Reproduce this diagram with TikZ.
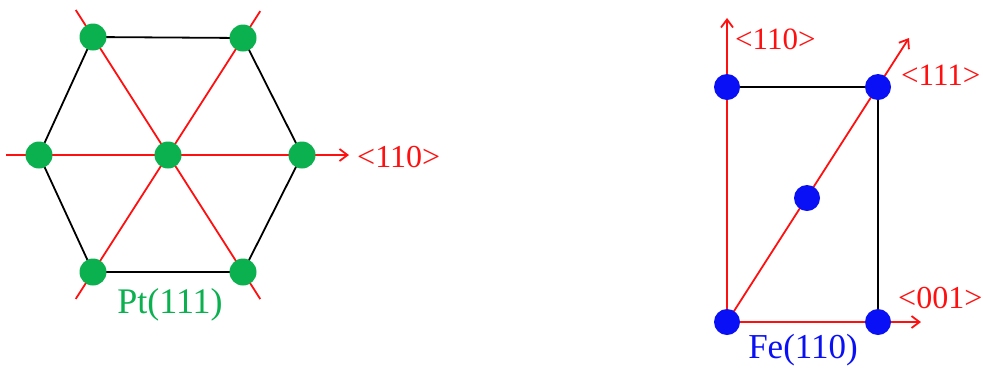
\documentclass[tikz,border=0pt]{standalone}
\usepackage{fontspec}
\setmainfont{Liberation Serif}
\usetikzlibrary{arrows.meta,calc}
\definecolor{ptgreen}{HTML}{0BB04F}
\definecolor{feblue}{HTML}{0A10F5}
\definecolor{axred}{HTML}{FF1010}
\begin{document}
\begin{tikzpicture}[x=1pt,y=-1pt,
  redline/.style={draw=axred,line width=1.8pt},
  redarrow/.style={redline,-{Straight Barb[length=8pt,width=12pt,line width=1.8pt]}},
  blackline/.style={draw=black,line width=1.8pt},
  ptatom/.style={circle,fill=ptgreen,minimum size=27pt,inner sep=0pt},
  featom/.style={circle,fill=feblue,minimum size=26pt,inner sep=0pt},
  axlabel/.style={text=axred,font=\fontsize{31}{31}\selectfont,anchor=base west,inner sep=0pt},
  ]
\useasboundingbox (0,0) rectangle (983,368);
% ---- Pt(111) ----
\coordinate (c) at (168,155);
\coordinate (l) at (39,155);
\coordinate (r) at (302,155);
\coordinate (tl) at (93,37);
\coordinate (tr) at (243,38);
\coordinate (bl) at (93,272);
\coordinate (br) at (243,272);
\coordinate (hstart) at (6,155);
\coordinate (htip) at (349,155);
\draw[blackline] (tl) -- (tr) -- (r) -- (br) -- (bl) -- (l) -- cycle;
\draw[redline] ($(tl)!-0.115!(br)$) -- ($(tl)!1.115!(br)$);
\draw[redline] ($(tr)!-0.115!(bl)$) -- ($(tr)!1.115!(bl)$);
\draw[redarrow] (hstart) -- (htip);
\foreach \p in {c,l,r,tl,tr,bl,br} \node[ptatom] (pt\p) at (\p) {};
\node[axlabel,font=\fontsize{32}{32}\selectfont] (lab110a) at (357,167) {<110>};
\node[text=ptgreen,font=\fontsize{36}{36}\selectfont,anchor=base,inner sep=0pt] (ptlab) at (170,313) {Pt(111)};
% ---- Fe(110) ----
\coordinate (fa) at (727,87);
\coordinate (fb) at (878,87);
\coordinate (fc) at (807,198);
\coordinate (fd) at (727,322);
\coordinate (fe) at (878,322);
\coordinate (uptip) at (727,18);
\coordinate (righttip) at (921,322);
\coordinate (diagtip) at (909,38);
\draw[blackline] (fa) -- (fb) -- (fe);
\draw[redarrow] (fd) -- (uptip);
\draw[redarrow] (fd) -- (righttip);
\draw[redarrow] (fd) -- (diagtip);
\foreach \p in {fa,fb,fc,fd,fe} \node[featom] (n\p) at (\p) {};
\node[axlabel] (lab110b) at (735,49) {<110>};
\node[axlabel] (lab111) at (901,85) {<111>};
\node[axlabel,font=\fontsize{32}{32}\selectfont] (lab001) at (898,308) {<001>};
\node[text=feblue,font=\fontsize{35}{35}\selectfont,anchor=base,inner sep=0pt] (felab) at (803,358) {Fe(110)};
\end{tikzpicture}
\end{document}
